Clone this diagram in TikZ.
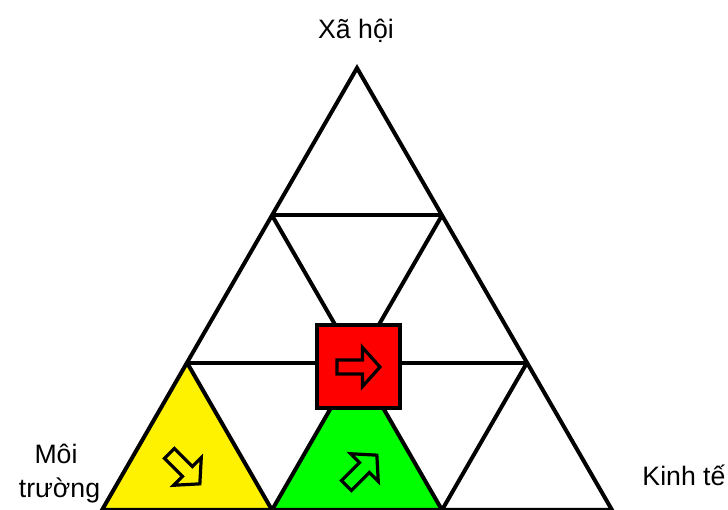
\documentclass[tikz,border=0pt]{standalone}
\usepackage{fontspec}
\setmainfont{Liberation Sans}
\usepackage{tikz}
\usetikzlibrary{positioning}

\begin{document}
\begin{tikzpicture}[x=0.75pt,y=-0.75pt,
    every node/.style={font=\fontsize{20}{24}\selectfont,inner sep=0pt},
    grid line/.style={line width=3pt},
    cell arrow/.style={line width=2.4pt,line join=miter}]
  \useasboundingbox (0,0) rectangle (728,510);
  % ---------------- Vertices ----------------
  \foreach \r in {0,...,3}{
    \foreach \c in {0,...,\r}{
      \coordinate (v\r\c) at ({357+85*(2*\c-\r)},{68+147.33*\r});
    }
  }
  % ---------------- Coloured cells ----------------
  \fill[yellow] (v20) -- (v30) -- (v31) -- cycle;
  \fill[green]  (v21) -- (v31) -- (v32) -- cycle;
  % ---------------- Triangle grid ----------------
  \draw[grid line] (v00) -- (v30) -- (v33) -- cycle;
  \draw[grid line] (v10) -- (v11);
  \draw[grid line] (v20) -- (v22);
  \draw[grid line] (v10) -- (v32);
  \draw[grid line] (v20) -- (v31);
  \draw[grid line] (v11) -- (v31);
  \draw[grid line] (v22) -- (v32);
  % red square in the middle
  \draw[line width=3pt,fill=red] (317,325) rectangle (400,408);
  % ---------------- Block arrows ----------------
  \foreach \px/\py/\a in {359/367/0, 185/469/-45, 362/470/45}{
    \draw[cell arrow,shift={(\px,\py)},rotate=\a]
      (-22,-7) -- (3.5,-7) -- (3.5,-19.5) -- (21,0) -- (3.5,19.5)
      -- (3.5,7) -- (-22,7) -- cycle;
  }
  % ---------------- Labels ----------------
  \node[anchor=base] (xahoi) at (356,39) {Xã hội};
  \node[anchor=base] (moi) at (56,463) {Môi};
  \node[anchor=base] (truong) at (59.5,497) {trường};
  \node[anchor=base] (kinhte) at (684,485) {Kinh tế};
\end{tikzpicture}
\end{document}
